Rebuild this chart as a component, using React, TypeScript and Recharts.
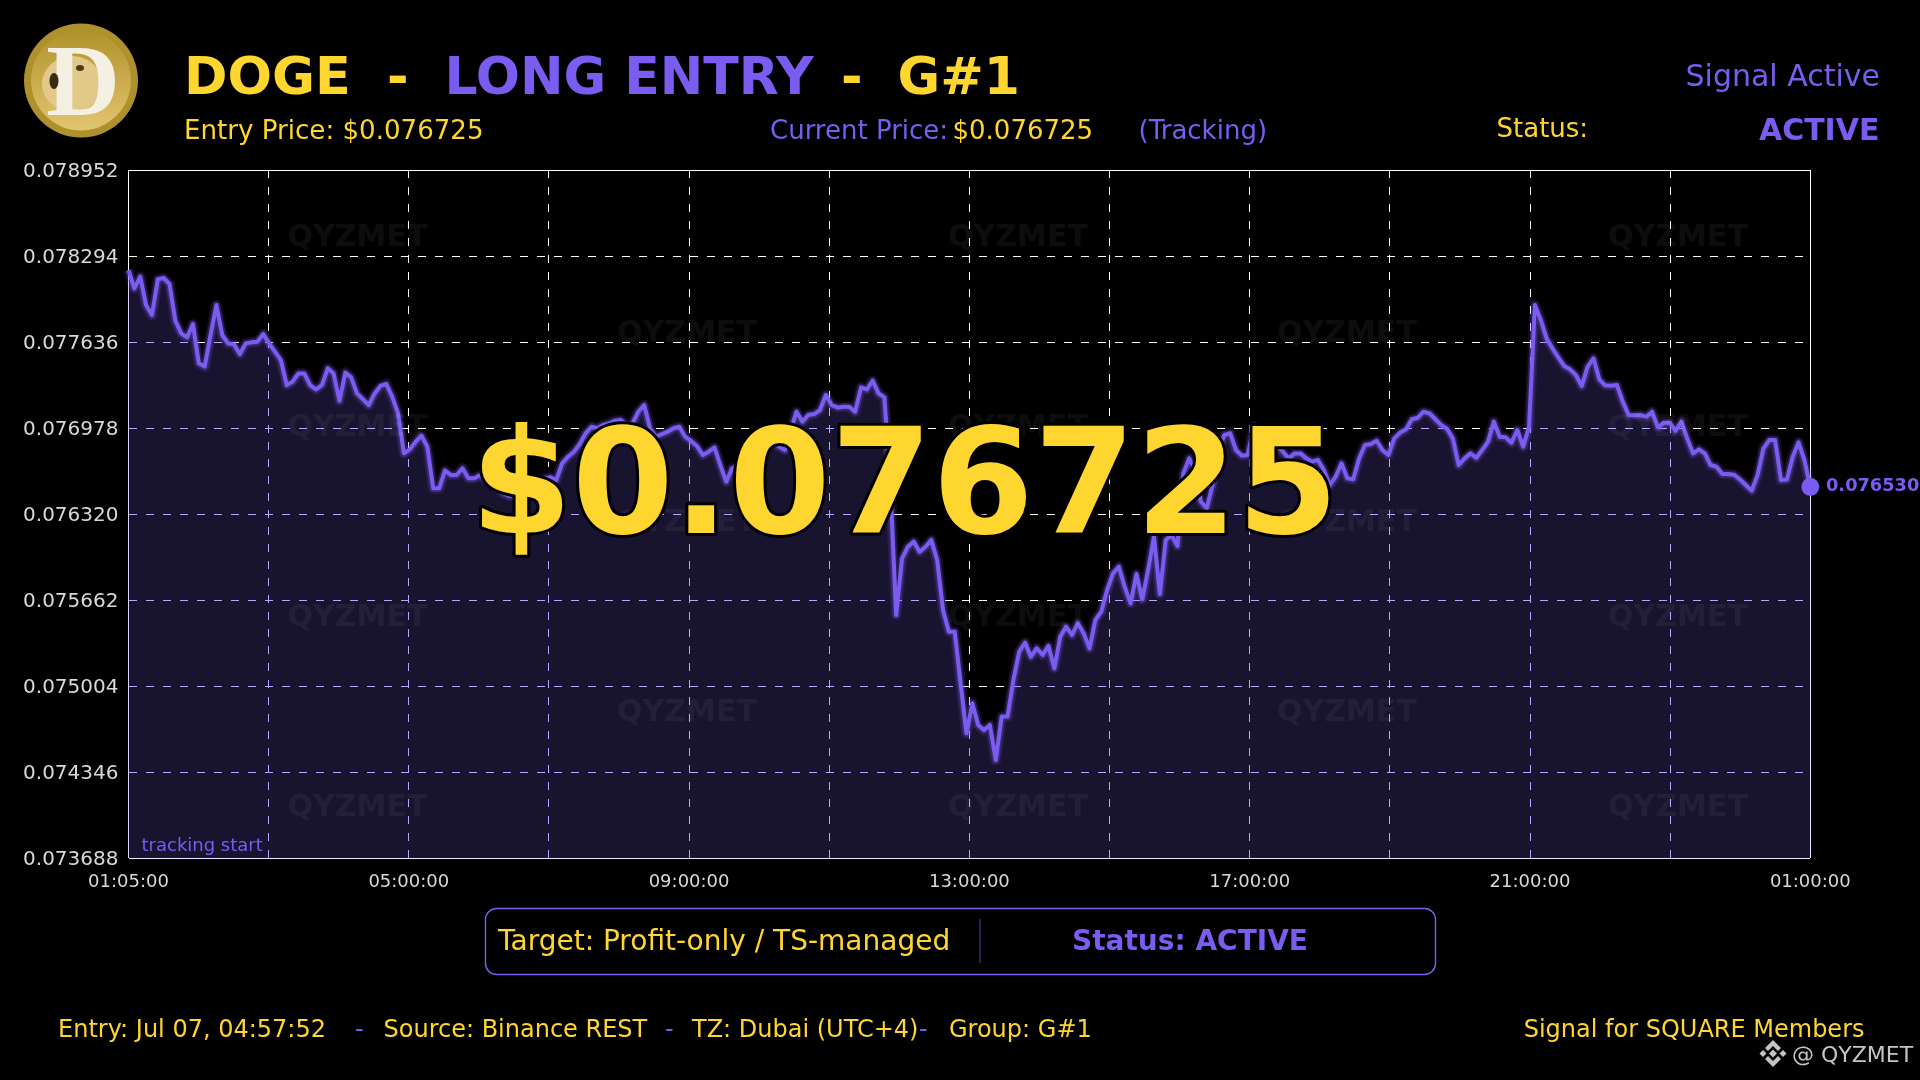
import React from "react";
import {
  ComposedChart,
  Area,
  Line,
  XAxis,
  YAxis,
  CartesianGrid,
  ReferenceDot,
} from "recharts";

const YELLOW = "#FFD530";
const PURPLE = "#7B5CF0";
const FONT = "'DejaVu Sans', sans-serif";

// 5 minute closes
const prices = [
  0.078189, 0.078049, 0.078138, 0.077921, 0.077845, 0.078118, 0.078128, 0.078082,
  0.077801, 0.077704, 0.077674, 0.077776, 0.077475, 0.07745, 0.077692, 0.077921,
  0.077692, 0.077628, 0.07762, 0.077546, 0.077628, 0.077636, 0.077641, 0.077699,
  0.077628, 0.077564, 0.0775, 0.077309, 0.077335, 0.077398, 0.077398, 0.077309,
  0.077276, 0.077309, 0.077437, 0.077398, 0.077189, 0.077404, 0.077368, 0.077245,
  0.0772, 0.077156, 0.077245, 0.077302, 0.077317, 0.07722, 0.077092, 0.076787,
  0.076817, 0.076876, 0.076922, 0.076837, 0.076519, 0.076519, 0.076654, 0.076621,
  0.076621, 0.076672, 0.076595, 0.076595, 0.076621, 0.076583, 0.076557, 0.076519,
  0.07648, 0.07646, 0.076468, 0.076493, 0.076519, 0.076544, 0.07657, 0.076595,
  0.076603, 0.076583, 0.07671, 0.076761, 0.076799, 0.076858, 0.076939, 0.07699,
  0.076978, 0.077003, 0.077016, 0.077036, 0.077041, 0.077003, 0.077016, 0.077105,
  0.077156, 0.076978, 0.076914, 0.076934, 0.076952, 0.076978, 0.07699, 0.076914,
  0.076881, 0.076843, 0.076774, 0.076799, 0.076832, 0.076697, 0.07657, 0.076672,
  0.076685, 0.076723, 0.076774, 0.076799, 0.076825, 0.07685, 0.076876, 0.076838,
  0.076812, 0.076965, 0.077105, 0.077029, 0.07708, 0.077087, 0.077118, 0.077233,
  0.077156, 0.077138, 0.077143, 0.077143, 0.077105, 0.077291, 0.077276, 0.077342,
  0.077245, 0.077215, 0.076557, 0.07555, 0.075983, 0.076072, 0.076111, 0.076034,
  0.076072, 0.076124, 0.07597, 0.075588, 0.075422, 0.075422, 0.075027, 0.074644,
  0.074874, 0.074708, 0.07467, 0.074708, 0.07444, 0.074772, 0.074772, 0.075052,
  0.075269, 0.075338, 0.075231, 0.075295, 0.075244, 0.075313, 0.075142, 0.075384,
  0.07546, 0.075397, 0.075486, 0.07541, 0.075295, 0.075512, 0.075575, 0.075741,
  0.075868, 0.07592, 0.075766, 0.075639, 0.075863, 0.07567, 0.075894, 0.076149,
  0.07571, 0.076124, 0.076162, 0.076078, 0.076633, 0.076748, 0.076659, 0.076417,
  0.076366, 0.076544, 0.076812, 0.076927, 0.07694, 0.076812, 0.076769, 0.076774,
  0.07699, 0.076965, 0.076914, 0.076838, 0.07685, 0.076799, 0.076748, 0.076786,
  0.076786, 0.076748, 0.076723, 0.076736, 0.076659, 0.076544, 0.076608, 0.07671,
  0.076595, 0.076588, 0.076748, 0.07685, 0.076858, 0.076883, 0.076812, 0.076774,
  0.076901, 0.076945, 0.07697, 0.077047, 0.077059, 0.077105, 0.077093, 0.077049,
  0.077003, 0.076975, 0.076901, 0.076697, 0.076748, 0.076786, 0.076753, 0.076812,
  0.076876, 0.077029, 0.076914, 0.076909, 0.076868, 0.076965, 0.076838, 0.07699,
  0.077921, 0.077807, 0.077666, 0.07759, 0.077521, 0.077455, 0.077429, 0.077386,
  0.077302, 0.07745, 0.077513, 0.077353, 0.077307, 0.077304, 0.077309, 0.077182,
  0.07708, 0.077077, 0.07708, 0.077067, 0.077105, 0.076985, 0.077021, 0.077021,
  0.07696, 0.077029, 0.076901, 0.076786, 0.076817, 0.076786, 0.076697, 0.076684,
  0.076628, 0.076628, 0.076623, 0.076587, 0.076544, 0.076501, 0.076621, 0.076825,
  0.076888, 0.076888, 0.076582, 0.076587, 0.076761, 0.076871, 0.076735, 0.07653,
];

const yTicks = [
  0.073688, 0.074346, 0.075004, 0.075662, 0.07632, 0.076978, 0.077636, 0.078294,
  0.078952,
];

const xTickLabels = [
  "01:05:00", "", "05:00:00", "", "09:00:00", "", "13:00:00", "", "17:00:00", "",
  "21:00:00", "", "01:00:00",
];

const lastIndex = prices.length - 1;
const lastPrice = prices[lastIndex];
const xTicks = xTickLabels.map((_, i) => (i * lastIndex) / (xTickLabels.length - 1));
const chartData = prices.map((price, i) => ({ i, price }));

const watermarks = [
  [357.5, 235], [1018, 235], [1678, 235],
  [687, 331], [1347, 331],
  [357.5, 425], [1018, 425], [1678, 425],
  [687, 520], [1347, 520],
  [357.5, 615], [1018, 615], [1678, 615],
  [687, 710], [1347, 710],
  [357.5, 805], [1018, 805], [1678, 805],
];

const Label = ({ x, y, size, color = YELLOW, bold = false, anchor = "start", children }: any) => (
  <text
    x={x}
    y={y}
    fontSize={size}
    fill={color}
    fontWeight={bold ? "bold" : "normal"}
    textAnchor={anchor}
    fontFamily={FONT}
    xmlSpace="preserve"
  >
    {children}
  </text>
);

const Coin = () => (
  <g>
    <defs>
      <linearGradient id="coinFill" x1="0" y1="0" x2="0" y2="1">
        <stop offset="0" stopColor="#b0922c" />
        <stop offset="1" stopColor="#e2c570" />
      </linearGradient>
    </defs>
    <circle cx={81} cy={80.5} r={57} fill="#ae902c" />
    <circle cx={81} cy={80.5} r={50} fill="url(#coinFill)" />
    <ellipse cx={72} cy={84} rx={30} ry={28} fill="#e2c98a" />
    <text
      x={83}
      y={115}
      fontSize={102}
      fontWeight="bold"
      fill="#f4f0e4"
      textAnchor="middle"
      fontFamily="'Liberation Serif', serif"
    >
      D
    </text>
    <ellipse cx={54} cy={81} rx={4.5} ry={8} fill="#3a2c10" />
    <ellipse cx={80} cy={68} rx={4} ry={3} fill="#4a3a18" />
  </g>
);

const BinanceMark = () => (
  <g fill="#c4c4c4">
    <polygon points="1773,1040 1781,1048 1778,1051 1773,1046 1768,1051 1765,1048" />
    <polygon points="1773,1067 1781,1059 1778,1056 1773,1061 1768,1056 1765,1059" />
    <polygon points="1773,1049.5 1777,1053.5 1773,1057.5 1769,1053.5" />
    <polygon points="1763,1050 1766.5,1053.5 1763,1057 1759.5,1053.5" />
    <polygon points="1783,1050 1786.5,1053.5 1783,1057 1779.5,1053.5" />
  </g>
);

const App = () => (
  <div style={{ position: "absolute", left: 0, top: 0, width: 1920, height: 1080, background: "#000", overflow: "hidden" }}>
    <style>{`
      .recharts-surface { background: #000; }
      .recharts-cartesian-grid line { shape-rendering: crispEdges; }
      .fill-tint { mix-blend-mode: multiply; }
      .fill-base { mix-blend-mode: lighten; }
    `}</style>
    <ComposedChart
      width={1920}
      height={1080}
      data={chartData}
      margin={{ top: 170.3, right: 109.7, bottom: 181.7, left: 0 }}
    >
      <CartesianGrid stroke="#ffffff" strokeWidth={1} strokeDasharray="8 9" />
      <CartesianGrid
        stroke="#ffffff"
        strokeWidth={1.6}
        horizontalValues={[yTicks[0], yTicks[yTicks.length - 1]]}
        verticalValues={[0, lastIndex]}
      />
      <XAxis
        dataKey="i"
        type="number"
        domain={[0, lastIndex]}
        ticks={xTicks}
        interval={0}
        minTickGap={0}
        height={40}
        axisLine={false}
        tickLine={false}
        tickSize={0}
        tickMargin={16}
        tick={{ fill: "#d8d8d8", fontSize: 18, fontFamily: FONT }}
        tickFormatter={(_: number, index: number) => xTickLabels[index]}
      />
      <YAxis
        type="number"
        domain={[yTicks[0], yTicks[yTicks.length - 1]]}
        ticks={yTicks}
        interval={0}
        width={128.5}
        axisLine={false}
        tickLine={false}
        tickSize={0}
        tickMargin={10}
        tick={{ fill: "#d8d8d8", fontSize: 20, fontFamily: FONT }}
        tickFormatter={(v: number) => v.toFixed(6)}
      />
      <Area
        className="fill-tint"
        dataKey="price"
        type="linear"
        baseValue={yTicks[0]}
        fill="#b5a6ff"
        fillOpacity={1}
        stroke="none"
        isAnimationActive={false}
      />
      <Area
        className="fill-base"
        dataKey="price"
        type="linear"
        baseValue={yTicks[0]}
        fill="#18132f"
        fillOpacity={1}
        stroke="none"
        isAnimationActive={false}
      />
      <Line
        dataKey="price"
        type="linear"
        stroke={PURPLE}
        strokeOpacity={0.12}
        strokeWidth={11}
        strokeLinejoin="round"
        dot={false}
        activeDot={false}
        isAnimationActive={false}
      />
      <Line
        dataKey="price"
        type="linear"
        stroke={PURPLE}
        strokeOpacity={0.25}
        strokeWidth={7.5}
        strokeLinejoin="round"
        dot={false}
        activeDot={false}
        isAnimationActive={false}
      />
      <Line
        dataKey="price"
        type="linear"
        stroke={PURPLE}
        strokeWidth={4}
        strokeLinejoin="round"
        dot={false}
        activeDot={false}
        isAnimationActive={false}
      />
      <ReferenceDot
        x={lastIndex}
        y={lastPrice}
        r={9}
        fill={PURPLE}
        stroke="none"
        ifOverflow="visible"
      />
    </ComposedChart>

    <svg width={1920} height={1080} style={{ position: "absolute", left: 0, top: 0 }}>
      {watermarks.map(([x, y]) => (
        <text
          key={`${x}-${y}`}
          x={x}
          y={y + 11}
          fontSize={30}
          fontWeight="bold"
          textAnchor="middle"
          fontFamily={FONT}
          fill="#fff"
          fillOpacity={0.05}
        >
          QYZMET
        </text>
      ))}

      <Coin />
      <Label x={184} y={94} size={52.4} bold>DOGE</Label>
      <Label x={387} y={94} size={52} bold>-</Label>
      <Label x={444.5} y={94} size={52} bold color={PURPLE}>LONG ENTRY</Label>
      <Label x={841} y={94} size={52} bold>-</Label>
      <Label x={897.5} y={94} size={52} bold>G#1</Label>
      <Label x={1880} y={86} size={30} anchor="end" color={PURPLE}>Signal Active</Label>

      <Label x={184} y={139} size={26.1}>Entry Price: $0.076725</Label>
      <Label x={770} y={139} size={26} color={PURPLE}>Current Price:</Label>
      <Label x={952.5} y={139} size={26}>$0.076725</Label>
      <Label x={1138.5} y={139} size={26} color={PURPLE}>(Tracking)</Label>
      <Label x={1496.5} y={137} size={26}>Status:</Label>
      <Label x={1879.5} y={140} size={30} bold anchor="end" color={PURPLE}>ACTIVE</Label>

      <Label x={141.5} y={851} size={18} color={PURPLE}>tracking start</Label>
      <Label x={1826} y={491} size={17.8} bold color={PURPLE}>0.076530</Label>

      <text
        x={904.5}
        y={533}
        fontSize={146}
        fontWeight="bold"
        textAnchor="middle"
        fontFamily={FONT}
        fill={YELLOW}
        stroke="#000"
        strokeWidth={6}
        strokeLinejoin="round"
        paintOrder="stroke"
      >
        $0.076725
      </text>

      <rect x={485.5} y={908.5} width={950} height={66} rx={11} fill="none" stroke={PURPLE} strokeWidth={1.4} />
      <line x1={980} y1={919} x2={980} y2={963} stroke={PURPLE} strokeWidth={1} strokeOpacity={0.7} />
      <Label x={498} y={950} size={28}>Target: Profit-only / TS-managed</Label>
      <Label x={1190} y={950} size={28} bold anchor="middle" color={PURPLE}>Status: ACTIVE</Label>

      <Label x={58} y={1037} size={24}>Entry: Jul 07, 04:57:52</Label>
      <Label x={355} y={1037} size={24} color={PURPLE}>-</Label>
      <Label x={383.5} y={1037} size={24}>Source: Binance REST</Label>
      <Label x={665} y={1037} size={24} color={PURPLE}>-</Label>
      <Label x={692} y={1037} size={24}>TZ: Dubai (UTC+4)</Label>
      <Label x={919} y={1037} size={24} color={PURPLE}>-</Label>
      <Label x={949} y={1037} size={24}>Group: G#1</Label>
      <Label x={1864.5} y={1037} size={24} anchor="end">Signal for SQUARE Members</Label>

      <BinanceMark />
      <Label x={1792} y={1062} size={22} color="#c4c4c4">@ QYZMET</Label>
    </svg>
  </div>
);

export default App;
